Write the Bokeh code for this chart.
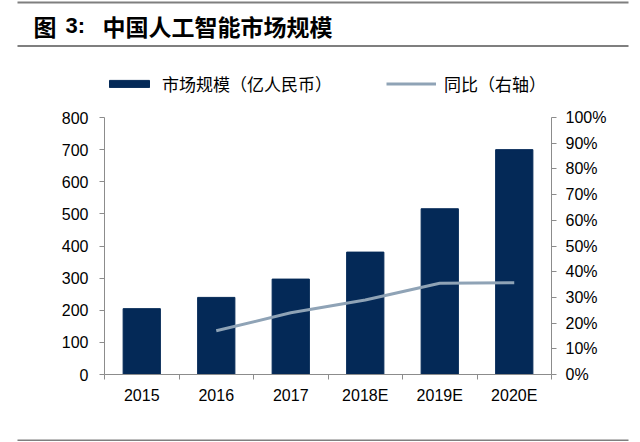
from bokeh.plotting import figure
from bokeh.layouts import column, row
from bokeh.models import (Range1d, LinearAxis, FixedTicker, NumeralTickFormatter,
                          Legend, LegendItem)
from bokeh.core.properties import value
from bokeh.embed import file_html
from bokeh.resources import INLINE

categories = ["2015", "2016", "2017", "2018E", "2019E", "2020E"]
market_size = [205, 240, 297, 381, 516, 700]
yoy_years = ["2016", "2017", "2018E", "2019E", "2020E"]
yoy = [0.17, 0.24, 0.29, 0.355, 0.357]
left_ticks = [0, 100, 200, 300, 400, 500, 600, 700, 800]
right_ticks = [0.0, 0.1, 0.2, 0.3, 0.4, 0.5, 0.6, 0.7, 0.8, 0.9, 1.0]
title_fig = "图"
title_num = "3:"
title_text = "中国人工智能市场规模"
bar_label = "市场规模（亿人民币）"
line_label = "同比（右轴）"

BAR_COLOR = "#042957"
LINE_COLOR = "#8fa3b6"
AXIS_COLOR = "#8c8c8c"
RULE_COLOR = "#7f7f7f"
NUM_FONT = "Liberation Sans"
CJK_FONT = "Noto Sans CJK SC"
W = 636
TOP_H = 100
MAIN_H = 332
BOT_H = 9
NAN = float("nan")


def bare(fig):
    fig.outline_line_color = None
    fig.grid.visible = False
    fig.background_fill_color = "white"
    fig.border_fill_color = "white"
    return fig


# ---- header: rules, title and legend -------------------------------------
top = bare(figure(width=W, height=TOP_H, output_backend="svg",
                  toolbar_location=None, x_range=Range1d(0, W),
                  y_range=Range1d(TOP_H, 0), x_axis_location=None,
                  y_axis_location=None, min_border=0))
top.segment(x0=[17, 17], x1=[628, 628], y0=[2, 45.5], y1=[2, 45.5],
            line_color=RULE_COLOR, line_width=2)
top.text(x=[33], y=[25], text=[title_fig], text_font=value(CJK_FONT),
         text_font_size="23px", text_font_style="bold", text_baseline="middle",
         text_color="black")
top.text(x=[65], y=[25], text=[title_num], text_font=value(NUM_FONT),
         text_font_size="22px", text_font_style="bold", text_baseline="middle",
         text_color="black")
top.text(x=[102], y=[25], text=[title_text], text_font=value(CJK_FONT),
         text_font_size="23px", text_font_style="bold", text_baseline="middle",
         text_color="black")

# legend swatches: unplotted (NaN) renderers styled like the chart's marks
leg_bar = top.vbar(x=[NAN], top=[NAN], width=1, fill_color=BAR_COLOR,
                   line_color=BAR_COLOR)
leg_line = top.line(x=[NAN], y=[NAN], line_color=LINE_COLOR, line_width=3)
legend = Legend(items=[LegendItem(label=bar_label, renderers=[leg_bar]),
                       LegendItem(label=line_label, renderers=[leg_line])],
                location=(104, 4), orientation="horizontal",
                glyph_width=50, glyph_height=9, label_standoff=8, spacing=54,
                padding=0, margin=0, border_line_color=None,
                background_fill_alpha=0, label_text_font=CJK_FONT,
                label_text_font_size="17px", label_text_color="black")
top.add_layout(legend)

# ---- main chart -----------------------------------------------------------
p = bare(figure(width=W, height=MAIN_H, output_backend="svg", toolbar_location=None,
                x_range=Range1d(0, len(categories)), y_range=Range1d(0, 800),
                min_border_left=104, min_border_right=W - 551, min_border_top=17,
                min_border_bottom=MAIN_H - 17 - 257))

xpos = [i + 0.5 for i in range(len(categories))]
p.vbar(x=xpos, top=market_size, width=0.5, fill_color=BAR_COLOR, line_color=BAR_COLOR)

p.extra_y_ranges = {"pct": Range1d(0, 1)}
line_x = [categories.index(c) + 0.5 for c in yoy_years]
p.line(x=line_x, y=yoy, y_range_name="pct", line_color=LINE_COLOR, line_width=3)

xa = p.xaxis[0]
xa.ticker = FixedTicker(ticks=xpos, minor_ticks=list(range(len(categories) + 1)))
xa.major_label_overrides = {x: c for x, c in zip(xpos, categories)}
xa.major_tick_in = 0
xa.major_tick_out = 0
xa.minor_tick_in = 0
xa.minor_tick_out = 5
xa.minor_tick_line_color = AXIS_COLOR
xa.axis_line_color = AXIS_COLOR
xa.major_label_standoff = 7
xa.major_label_text_font = NUM_FONT
xa.major_label_text_font_size = "16px"
xa.major_label_text_color = "black"

ya = p.yaxis[0]
ya.ticker = FixedTicker(ticks=left_ticks)
ya.major_tick_in = 0
ya.major_tick_out = 5
ya.minor_tick_out = 0
ya.minor_tick_in = 0
ya.axis_line_color = AXIS_COLOR
ya.major_tick_line_color = AXIS_COLOR
ya.major_label_standoff = 11
ya.major_label_text_font = NUM_FONT
ya.major_label_text_font_size = "16px"
ya.major_label_text_color = "black"

ra = LinearAxis(y_range_name="pct", ticker=FixedTicker(ticks=right_ticks),
                formatter=NumeralTickFormatter(format="0%"))
ra.major_tick_in = 0
ra.major_tick_out = 5
ra.minor_tick_out = 0
ra.minor_tick_in = 0
ra.axis_line_color = AXIS_COLOR
ra.major_tick_line_color = AXIS_COLOR
ra.major_label_standoff = 9
ra.major_label_text_font = NUM_FONT
ra.major_label_text_font_size = "16px"
ra.major_label_text_color = "black"
p.add_layout(ra, "right")

# ---- footer rule ----------------------------------------------------------
bot = bare(figure(width=W, height=BOT_H, output_backend="svg", toolbar_location=None,
                  x_range=Range1d(0, W), y_range=Range1d(BOT_H, 0),
                  x_axis_location=None, y_axis_location=None, min_border=0))
bot.segment(x0=[17], x1=[628], y0=[5], y1=[5], line_color=RULE_COLOR, line_width=2)

layout = column(row(top), p, row(bot), spacing=0)
open("out.html", "w").write(file_html(layout, INLINE))
